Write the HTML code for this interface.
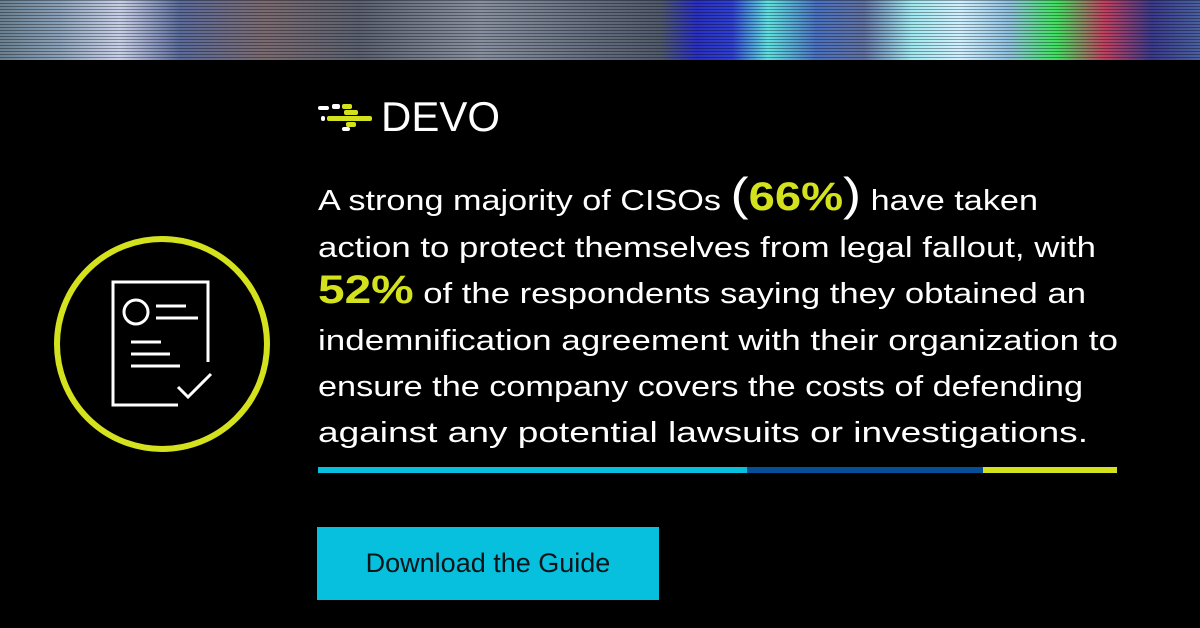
<!DOCTYPE html>
<html><head><meta charset="utf-8"><style>
html,body{margin:0;padding:0;background:#000;}
#root{position:relative;width:1200px;height:628px;overflow:hidden;background:#000;font-family:"Liberation Sans",sans-serif;}
#banner{position:absolute;left:0;top:0;width:1200px;height:60px;
background:
repeating-linear-gradient(180deg,rgba(0,0,0,0.35) 0 1px,rgba(0,0,0,0) 1px 3px),
linear-gradient(90deg,#6a8090 0%,#8aa0b8 5%,#c8d0e8 10%,#5a6a9a 15%,#7a6a70 22%,#5a6070 30%,#8890a0 40%,#606a7a 50%,#505a6a 55%,#2a30c0 58%,#3040d0 61%,#60e0e0 64%,#4a70c0 68%,#6070a0 72%,#a0e8f0 76%,#d0f0ff 80%,#90c0e0 84%,#40e060 88%,#c04060 92%,#3a3a8a 96%,#4a60a0 100%);}
#btn{position:absolute;left:317px;top:527px;width:342px;height:73px;background:#07c0de;color:#0a1418;font-size:27px;display:flex;align-items:center;justify-content:center;}
</style></head><body>
<div id="root">
<div id="banner"></div>
<svg width="1200" height="628" style="position:absolute;left:0;top:0">
 <g>
  <rect x="318" y="106" width="11" height="4" rx="2" fill="#fff"/>
  <rect x="332" y="104" width="8" height="5" rx="2" fill="#fff"/>
  <rect x="342" y="104" width="10" height="5" rx="2" fill="#d4e21e"/>
  <rect x="344" y="110" width="14" height="5" rx="2" fill="#d4e21e"/>
  <rect x="321" y="116" width="4" height="5" rx="2" fill="#fff"/>
  <rect x="327" y="116" width="45" height="5" rx="2" fill="#d4e21e"/>
  <rect x="346" y="122" width="10" height="5" rx="2" fill="#d4e21e"/>
  <rect x="342" y="127" width="8" height="4" rx="2" fill="#fff"/>
  <text x="381" y="131" font-size="42" fill="#fff" textLength="119" lengthAdjust="spacingAndGlyphs">DEVO</text>
 </g>
 <g fill="none" stroke="#fff" stroke-width="3">
  <circle cx="162" cy="344" r="105" stroke="#d4e21e" stroke-width="6"/>
  <polyline points="178,405 113,405 113,282 208,282 208,362"/>
  <circle cx="136" cy="312" r="12"/>
  <line x1="156" y1="306" x2="186" y2="306"/><line x1="156" y1="318" x2="198" y2="318"/>
  <line x1="131" y1="342" x2="161" y2="342"/><line x1="131" y1="354" x2="170" y2="354"/><line x1="131" y1="366" x2="180" y2="366"/>
  <polyline points="178,387 188,397 211,374"/>
 </g>
 <g fill="#fff" font-size="29">
  <text x="318" y="210" textLength="720" lengthAdjust="spacingAndGlyphs">A strong majority of CISOs <tspan font-size="46" font-weight="300">(</tspan><tspan font-size="40" font-weight="bold" fill="#d4e21e">66%</tspan><tspan font-size="46" font-weight="300">)</tspan> have taken</text>
  <text x="318" y="257" textLength="778" lengthAdjust="spacingAndGlyphs">action to protect themselves from legal fallout, with</text>
  <text x="318" y="303" textLength="768" lengthAdjust="spacingAndGlyphs"><tspan font-size="40" font-weight="bold" fill="#d4e21e">52%</tspan> of the respondents saying they obtained an</text>
  <text x="318" y="350" textLength="800" lengthAdjust="spacingAndGlyphs">indemnification agreement with their organization to</text>
  <text x="318" y="396" textLength="765" lengthAdjust="spacingAndGlyphs">ensure the company covers the costs of defending</text>
  <text x="318" y="442" textLength="770" lengthAdjust="spacingAndGlyphs">against any potential lawsuits or investigations.</text>
 </g>
 <g>
  <rect x="318" y="467" width="429" height="6" fill="#07c0de"/>
  <rect x="747" y="467" width="236" height="6" fill="#044f98"/>
  <rect x="983" y="467" width="134" height="6" fill="#d4e21e"/>
 </g>
</svg>
<div id="btn">Download the Guide</div>
</div>
</body></html>
